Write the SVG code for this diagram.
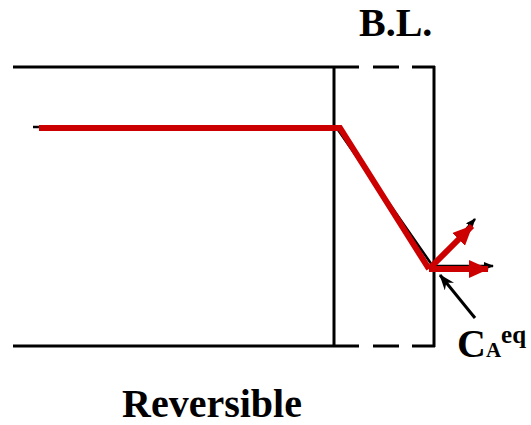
<svg xmlns="http://www.w3.org/2000/svg" width="531" height="425" viewBox="0 0 531 425">
<defs>
<style>
.ln{stroke:#000;stroke-width:3;fill:none}
.red{stroke:#cc0000;stroke-width:6;fill:none}
.lbl{font-family:"Liberation Serif","Times New Roman",serif;font-weight:bold;fill:#000}
</style>
<marker id="ab" markerWidth="10" markerHeight="8" refX="9" refY="4" orient="auto" markerUnits="userSpaceOnUse" viewBox="0 0 10 8"><path d="M0,0 L10,4 L0,8 Z" fill="#000"/></marker>
<marker id="abp" markerWidth="16" markerHeight="12" refX="15" refY="6" orient="auto" markerUnits="userSpaceOnUse" viewBox="0 0 16 12"><path d="M0,0 L16,6 L0,12 L5,6 Z" fill="#000"/></marker>
<marker id="ar" markerWidth="20" markerHeight="18" refX="19" refY="9" orient="auto" markerUnits="userSpaceOnUse" viewBox="0 0 20 18"><path d="M0,0 L20,9 L0,18 Z" fill="#cc0000"/></marker>
</defs>
<g id="boundary">
<line class="ln" x1="13" y1="67" x2="359" y2="67"/>
<line class="ln" x1="373" y1="67" x2="399" y2="67"/>
<line class="ln" x1="412" y1="67" x2="435" y2="67"/>
<line class="ln" x1="13" y1="346" x2="359" y2="346"/>
<line class="ln" x1="373" y1="346" x2="399" y2="346"/>
<line class="ln" x1="412" y1="346" x2="435" y2="346"/>
<line class="ln" x1="334" y1="67" x2="334" y2="347"/>
<line class="ln" x1="434" y1="66" x2="434" y2="347"/>
</g>
<g id="profile-black">
<polyline class="ln" points="33,127 336,127 432,265" style="stroke-width:2.5"/>
<line x1="434" y1="266" x2="493" y2="266" stroke="#000" stroke-width="2.5" marker-end="url(#ab)"/>
<line x1="434" y1="266" x2="475" y2="219" stroke="#000" stroke-width="2.5" marker-end="url(#ab)"/>
</g>
<g id="profile-red">
<polyline class="red" points="39,128 340,128 429,269" stroke-linejoin="miter"/>
<line class="red" x1="429" y1="269" x2="488" y2="269" marker-end="url(#ar)"/>
<line class="red" x1="429" y1="269" x2="472" y2="226" marker-end="url(#ar)"/>
</g>
<g id="connectors">
<line x1="475" y1="318" x2="440" y2="275" stroke="#000" stroke-width="3" marker-end="url(#abp)"/>
</g>
<g id="labels">
<text class="lbl" x="359" y="36" font-size="40">B.L.</text>
<text class="lbl" x="122" y="417" font-size="40">Reversible</text>
<text class="lbl" x="457" y="357" font-size="40">C<tspan font-size="21">A</tspan><tspan font-size="25" dy="-14">eq</tspan></text>
</g>
</svg>
